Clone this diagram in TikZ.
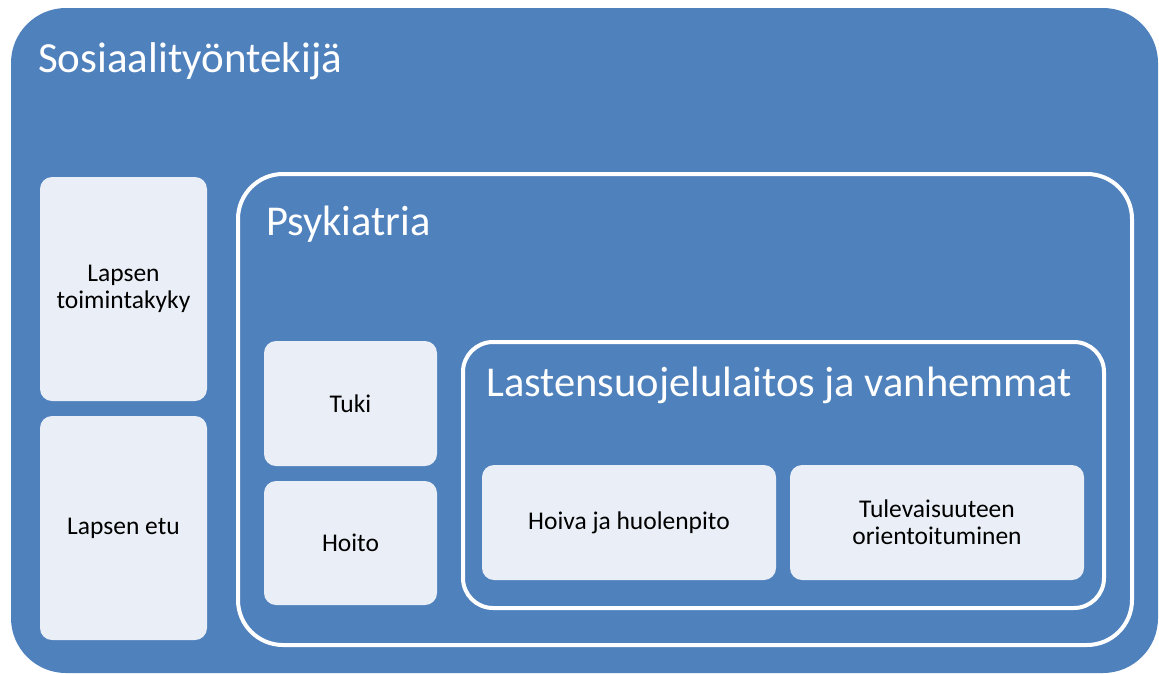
\documentclass[tikz,border=0pt]{standalone}
\usepackage{fontspec}
\setmainfont{Carlito}
\usetikzlibrary{positioning}
\definecolor{sblue}{HTML}{4F81BD}
\definecolor{slight}{HTML}{EAEEF6}
\tikzstyle{frame}=[draw=white,line width=4pt,fill=sblue,inner sep=0pt]
\tikzstyle{card}=[fill=slight,rounded corners=12pt,inner sep=2pt,align=center,font=\fontsize{25.5}{27}\selectfont]
\tikzstyle{head}=[anchor=base west,inner sep=0pt,text=white,font=\fontsize{42.5}{50}\selectfont]
\begin{document}
\begin{tikzpicture}[x=1pt,y=-1pt]
            \useasboundingbox (0,0) rectangle (1159,673);
            \node (outer) [fill=sblue,rounded corners=55pt,minimum width=1147pt,minimum height=665pt,inner sep=0pt] at (584.5,340.5) {};
            \node (psyk) [frame,rounded corners=45pt,minimum width=894pt,minimum height=471pt] at (685,409.5) {};
            \node (laitos) [frame,rounded corners=30pt,minimum width=641pt,minimum height=266pt] at (783.5,475) {};

            \node (tsos) [head,font=\fontsize{43}{50}\selectfont] at (38,72) {Sosiaalityöntekijä};
            \node (tpsyk) [head] at (266,235) {Psykiatria};
            \node (tlaitos) [head] at (486,396) {Lastensuojelulaitos ja vanhemmat};

            \node (toiminta) [card,minimum width=167pt,minimum height=224pt] at (123.5,289) {Lapsen\\toimintakyky};
            \node (etu) [card,minimum width=167pt,minimum height=224pt] at (123.5,528) {Lapsen etu};
            \node (tuki) [card,minimum width=173pt,minimum height=125pt] at (350.5,403.5) {Tuki};
            \node (hoito) [card,minimum width=173pt,minimum height=124pt] at (350.5,543) {Hoito};
            \node (hoiva) [card,minimum width=294pt,minimum height=115pt] at (629,522.5) {Hoiva ja huolenpito};
            \node (tulev) [card,minimum width=294pt,minimum height=115pt] at (937,522.5) {Tulevaisuuteen\\orientoituminen};
        \end{tikzpicture}
\end{document}
